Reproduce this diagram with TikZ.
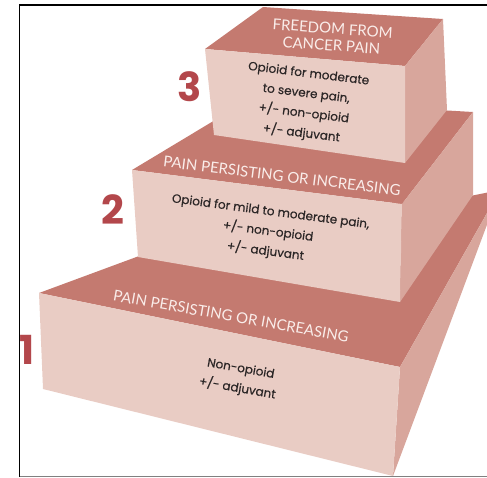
\documentclass[tikz,border=0pt]{standalone}
\usepackage{fontspec}
\setmainfont{Poppins}
\newfontfamily\capsfont{Lato}
\newfontfamily\bodyfont[FakeBold=0.5]{Poppins}
\definecolor{topc}{HTML}{C47A70}
\definecolor{frontc}{HTML}{E9CCC4}
\definecolor{sidec}{HTML}{D8A69C}
\definecolor{numc}{HTML}{B3474B}
\definecolor{captxt}{HTML}{FAEDEA}
\definecolor{bodytxt}{HTML}{2B2626}
\tikzset{
  captext/.style={text=captxt, inner sep=0pt, align=center, font=\capsfont\fontsize{15}{17}\selectfont},
  bodytext/.style={text=bodytxt, inner sep=0pt, align=center, font=\bodyfont\fontsize{12}{20}\selectfont},
  numstyle/.style={text=numc, inner sep=0pt, font=\bfseries\fontsize{40}{40}\selectfont},
}
\begin{document}
\begin{tikzpicture}[x=1pt,y=-1pt]
\useasboundingbox (0,0) rectangle (487,477);
\begin{scope}
\clip (0,0) rectangle (487,477);
% box 1
\fill[topc] (39,293) -- (250,215) -- (470,196) -- (500,190) -- (400,367) -- cycle;
\fill[sidec] (400,367) -- (500,190) -- (393,476) -- cycle;
\fill[frontc] (39,293) -- (400,367) -- (393,476) -- (43,389) -- cycle;
% box 2
\fill[topc] (132,170) -- (250,99) -- (473,112) -- (402,204) -- cycle;
\fill[sidec] (402,204) -- (473,112) -- (473,195) -- (400,302) -- cycle;
\fill[frontc] (132,170) -- (402,204) -- (400,302) -- (138,257) -- cycle;
% box 3
\fill[topc] (205,49) -- (263,7) -- (443,19) -- (405,66) -- cycle;
\fill[sidec] (405,66) -- (443,19) -- (447,110) -- (405,163) -- cycle;
\fill[frontc] (205,49) -- (405,66) -- (405,163) -- (214,135) -- cycle;
\end{scope}
% texts
\node[captext, rotate=-4] (t3) at (332,37) {FREEDOM FROM\\CANCER PAIN};
\node[bodytext, rotate=-7] (b3) at (305,104) {Opioid for moderate\\to severe pain,\\+/- non-opioid\\+/- adjuvant};
\node[captext, rotate=-7] (t2) at (282,176) {PAIN PERSISTING OR INCREASING};
\node[bodytext, rotate=-7.5] (b2) at (268,232) {Opioid for mild to moderate pain,\\+/- non-opioid\\+/- adjuvant};
\node[captext, rotate=-10] (t1) at (231,316) {PAIN PERSISTING OR INCREASING};
\node[bodytext, rotate=-10] (b1) at (239,379) {Non-opioid\\+/- adjuvant};
% numbers
\node[numstyle] (n3) at (190,87) {3};
\node[numstyle] (n2) at (113,210) {2};
\node[numstyle] (n1) at (27,350) {1};
% frame
\draw[line width=1.2pt] (19.5,477) -- (19.5,5) -- (487,5);
\draw[gray, line width=1pt] (19.5,476) -- (487,476);
\end{tikzpicture}
\end{document}
